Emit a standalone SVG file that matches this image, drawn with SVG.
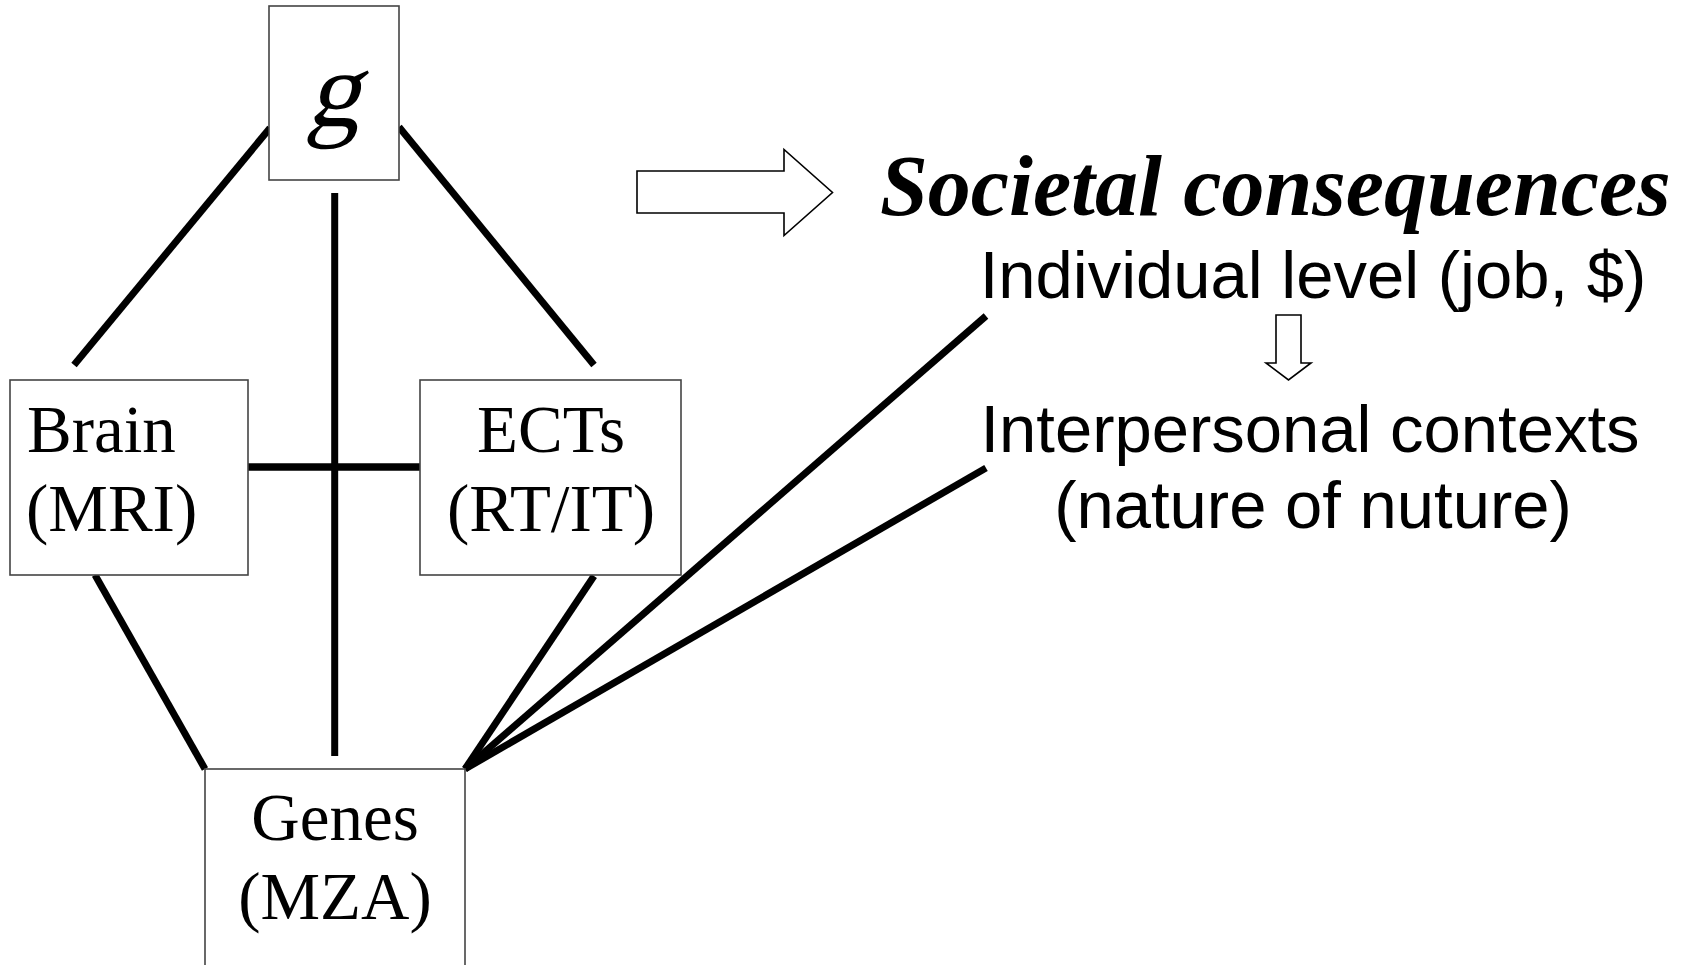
<svg xmlns="http://www.w3.org/2000/svg" width="1698" height="965" viewBox="0 0 1698 965">
<style>
.box{fill:#fff;stroke:#444;stroke-width:1.6}
.serif{font-family:"Liberation Serif","Times New Roman",serif;font-size:67px;fill:#000}
.sans{font-family:"Liberation Sans",Arial,sans-serif;font-size:67px;fill:#000}
.conn line{stroke:#000;stroke-width:7;stroke-linecap:butt}
.arrow{fill:#fff;stroke:#000;stroke-width:1.6;stroke-linejoin:miter}
</style>
<rect width="1698" height="965" fill="#fff"/>
<g id="connectors" class="conn">
<line x1="270" y1="128" x2="74" y2="365"/>
<line x1="399" y1="127" x2="594" y2="365"/>
<line x1="334.7" y1="193" x2="334.7" y2="756"/>
<line x1="248" y1="467" x2="420" y2="467" style="stroke-width:7.5"/>
<line x1="95" y1="575" x2="205" y2="769"/>
<line x1="594" y1="576" x2="465" y2="769"/>
<line x1="465" y1="769" x2="986" y2="316"/>
<line x1="465" y1="769" x2="986" y2="468"/>
</g>
<g id="node-g">
<rect class="box" x="269" y="6" width="130" height="174"/>
<text class="serif" transform="translate(333,126) skewX(-14)" x="0" y="0" style="font-size:108px" text-anchor="middle">g</text>
</g>
<g id="node-brain">
<rect class="box" x="10" y="380" width="238" height="195"/>
<text class="serif" x="27" y="452">Brain</text>
<text class="serif" x="26" y="531">(MRI)</text>
</g>
<g id="node-ects">
<rect class="box" x="420" y="380" width="261" height="195"/>
<text class="serif" x="551" y="452" text-anchor="middle">ECTs</text>
<text class="serif" x="551" y="531" text-anchor="middle">(RT/IT)</text>
</g>
<g id="node-genes">
<rect class="box" x="205" y="769" width="260" height="200"/>
<text class="serif" x="335" y="840" text-anchor="middle">Genes</text>
<text class="serif" x="335" y="919" text-anchor="middle">(MZA)</text>
</g>
<g id="big-arrow">
<polygon class="arrow" points="637,171 784,171 784,149.5 832.5,192.5 784,235.5 784,213 637,213"/>
</g>
<g id="node-societal">
<text class="serif" x="880" y="215" font-style="italic" font-weight="bold" style="font-size:86px">Societal consequences</text>
</g>
<g id="node-individual">
<text class="sans" x="1313" y="298" text-anchor="middle">Individual level (job, $)</text>
</g>
<g id="small-arrow">
<polygon class="arrow" points="1276,315 1301,315 1301,363 1311,363 1288.5,380 1266,363 1276,363"/>
</g>
<g id="node-interpersonal">
<text class="sans" x="1310" y="452" text-anchor="middle">Interpersonal contexts</text>
<text class="sans" x="1313" y="528" text-anchor="middle">(nature of nuture)</text>
</g>
</svg>
